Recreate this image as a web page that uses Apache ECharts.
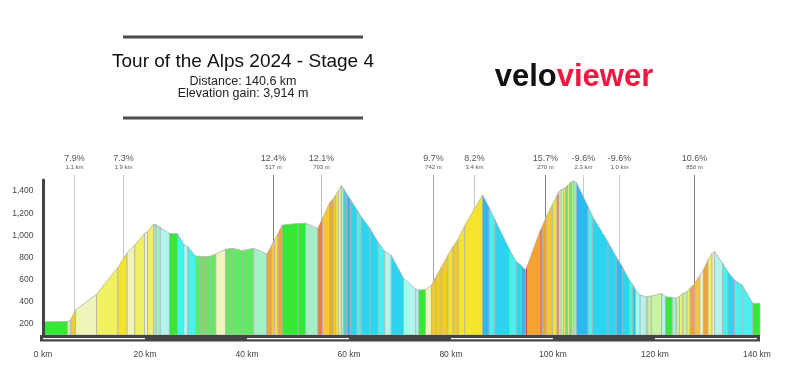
<!DOCTYPE html>
<html>
<head>
<meta charset="utf-8">
<title>Tour of the Alps 2024 - Stage 4</title>
<script src="https://cdn.jsdelivr.net/npm/echarts@6.0.0/dist/echarts.min.js"></script>
<style>
  html, body { margin: 0; padding: 0; background: #fff; }
  #chart { width: 791px; height: 377px; }
</style>
</head>
<body>
<div id="chart"></div>
<script>
const stageTitle = 'Tour of the Alps 2024 - Stage 4'
const totalKm = 140.6
const elevationGain = 3914

// profile points (km, elevation m)
const profileKm = [
  0, 4.8, 5.4, 6.4, 10.5, 14.7, 16.5, 18.0, 19.9, 20.5,
  21.7, 22.2, 23.0, 24.8, 26.4, 27.6, 28.4, 29.9, 30.8, 31.7,
  32.8, 33.9, 35.8, 37.1, 39.1, 41.3, 43.9, 44.8, 45.4, 46.1,
  46.9, 50.0, 51.5, 53.9, 54.8, 56.2, 56.9, 57.4, 58.0, 58.5,
  59.0, 59.6, 60.3, 61.6, 62.4, 64.1, 65.7, 67.0, 68.3, 70.7,
  73.1, 73.7, 75.0, 76.2, 77.0, 78.1, 79.4, 80.4, 81.4, 82.7,
  86.2, 87.5, 88.6, 91.5, 92.8, 93.8, 94.6, 95.0, 97.4, 98.0,
  98.7, 99.9, 100.8, 101.2, 101.6, 102.1, 102.5, 102.9, 103.3, 103.7,
  104.1, 104.6, 106.9, 107.8, 110.8, 112.4, 113.6, 115.0, 115.7, 116.2,
  117.1, 118.3, 118.6, 119.3, 121.3, 122.1, 123.4, 124.2, 124.8, 125.5,
  126.3, 126.9, 127.8, 128.8, 129.5, 130.4, 131.2, 131.7, 133.3, 134.3,
  135.6, 137.1, 139.2, 140.6
]
const profileElev = [
  220, 222, 238, 326, 468, 711, 843, 913, 1018, 1033,
  1103, 1095, 1070, 1018, 1014, 919, 899, 814, 810, 807,
  812, 832, 874, 884, 862, 883, 832, 907, 962, 1018,
  1093, 1108, 1110, 1064, 1154, 1294, 1330, 1365, 1410, 1452,
  1419, 1372, 1323, 1228, 1170, 1064, 940, 857, 820, 612,
  516, 506, 510, 552, 621, 711, 820, 898, 965, 1088,
  1365, 1250, 1145, 870, 765, 728, 687, 729, 1033, 1094,
  1169, 1278, 1361, 1397, 1412, 1422, 1434, 1455, 1470, 1488,
  1492, 1478, 1259, 1169, 939, 806, 717, 597, 552, 506,
  461, 446, 448, 452, 476, 445, 440, 432, 452, 476,
  491, 522, 567, 640, 690, 777, 838, 853, 748, 672,
  597, 552, 386, 386
]
// gradient (%) of each segment between consecutive points
const segmentGrade = [
  0, 2, 9, 3, 5, 7, 3, 5, 3, 5,
  -1, -1.5, -3, 0, -5, -3, -5, 1, 1, 1,
  1, 3, 1, 1, 1, -2, 11, 9, 7, 11,
  0, 0, -2, 13, 8.5, 11, 9, 7, 3, -1.5,
  -7, -9, -7, -5, -7, -7, -5, -3, -7, -3,
  -3, 0, 3, 8, 9, 9, 7, 9, 7, 7,
  -9, -5, -7, -5, -7, -9, 16, 11, 13, 11,
  9, 7, 13, 3, 2, 5, 1, 5, 1, 2,
  -1.5, -9, -5, -7, -7, -9, -7, -5, -9, -3,
  -3, 3, 2, 2, -3, 0, -2, 2, 5, 2,
  5, 11, 8, 3, 11, 5, 3, -3, -5, -7,
  -5, -5, 0
]

// steepest-section markers
const climbKm = [6.0, 15.6, 45.1, 54.5, 76.5, 84.5, 98.4, 105.8, 113.0, 127.6]
const climbGrade = ['7.9%', '7.3%', '12.4%', '12.1%', '9.7%', '8.2%', '15.7%', '-9.6%', '-9.6%', '10.6%']
const climbLength = ['1.1 km', '1.9 km', '517 m', '793 m', '742 m', '3.4 km', '270 m', '2.3 km', '1.0 km', '850 m']

const elevTicks = [200, 400, 600, 800, 1000, 1200, 1400]
const kmTicks = [0, 20, 40, 60, 80, 100, 120, 140]
const scaleSegments = [[0, 20], [40, 60], [80, 100], [120, 140]]

const yMin = 100
const yMax = 1500
const font = "'Liberation Sans', Arial, sans-serif"
const climbLineColors = ['#c8c8c8', '#c8c8c8', '#808080', '#c0c0c0', '#a4a4a4',
  '#c4c4c4', '#808080', '#cccccc', '#cccccc', '#808080']

const gradeColor = (g) => {
  if (g >= 15) return '#e6363a'
  if (g >= 12) return '#f27a34'
  if (g >= 10) return '#f4a232'
  if (g >= 8) return '#f4c830'
  if (g >= 6) return '#f4e42c'
  if (g >= 4) return '#f0f062'
  if (g >= 2.5) return '#f0f4ba'
  if (g >= 1.5) return '#c8f4a2'
  if (g >= 0.5) return '#62e862'
  if (g > -0.5) return '#34e834'
  if (g > -2.5) return '#a4f0c6'
  if (g > -4) return '#b0f4ec'
  if (g > -6) return '#4af0f0'
  if (g > -8) return '#2cd4f0'
  return '#2cb8f0'
}

const segData = segmentGrade.map((g, i) => [
  profileKm[i], profileElev[i], profileKm[i + 1], profileElev[i + 1], g
])

const chart = echarts.init(document.getElementById('chart'))

const option = {
  animation: false,
  backgroundColor: '#ffffff',
  grid: { left: 43, right: 31, top: 180, bottom: 42 },
  xAxis: {
    type: 'value',
    min: 0,
    max: totalKm,
    axisLine: { show: false },
    axisTick: { show: false },
    splitLine: { show: false },
    axisLabel: {
      customValues: kmTicks,
      formatter: (v) => v + ' km',
      color: '#444',
      fontSize: 8.5,
      fontFamily: font,
      margin: 15
    }
  },
  yAxis: {
    type: 'value',
    min: yMin,
    max: yMax,
    offset: 1.5,
    z: 5,
    axisLine: { show: true, lineStyle: { color: '#444', width: 3 } },
    axisTick: { show: false },
    splitLine: { show: false },
    axisLabel: {
      customValues: elevTicks,
      formatter: (v) => v.toLocaleString('en-US'),
      color: '#444',
      fontSize: 8.5,
      fontFamily: font,
      margin: 8
    }
  },
  graphic: [
    { type: 'line', shape: { x1: 123, y1: 37, x2: 363, y2: 37 }, style: { stroke: '#4d4d4d', lineWidth: 3 } },
    { type: 'text', x: 243, y: 62, style: { text: stageTitle, font: '19px ' + font, fill: '#111', align: 'center', verticalAlign: 'middle' } },
    { type: 'text', x: 243, y: 82, style: { text: 'Distance: ' + totalKm + ' km', font: '12.5px ' + font, fill: '#222', align: 'center', verticalAlign: 'middle' } },
    { type: 'text', x: 243, y: 94, style: { text: 'Elevation gain: ' + elevationGain.toLocaleString('en-US') + ' m', font: '12.5px ' + font, fill: '#222', align: 'center', verticalAlign: 'middle' } },
    { type: 'line', shape: { x1: 123, y1: 118, x2: 363, y2: 118 }, style: { stroke: '#4d4d4d', lineWidth: 3 } },
    {
      type: 'text', x: 574, y: 77,
      style: {
        text: '{a|velo}{b|viewer}',
        align: 'center',
        verticalAlign: 'middle',
        rich: {
          a: { fontSize: 31, fontWeight: 900, fontFamily: font, fill: '#111', color: '#111' },
          b: { fontSize: 31, fontWeight: 900, fontFamily: font, fill: '#ee1840', color: '#ee1840' }
        }
      }
    }
  ],
  series: [
    {
      name: 'climbs',
      type: 'custom',
      z: 1,
      data: climbKm.map((km, i) => [km, i]),
      encode: { x: 0 },
      renderItem: (params, api) => {
        const i = api.value(1)
        const top = api.coord([api.value(0), yMax])
        const bottom = api.coord([api.value(0), yMin])
        const x = Math.round(top[0]) + 0.5
        return {
          type: 'group',
          children: [
            { type: 'line', shape: { x1: x, y1: top[1] - 5, x2: x, y2: bottom[1] }, style: { stroke: climbLineColors[i], lineWidth: 1 } },
            { type: 'text', style: { x: x, y: top[1] - 21.5, text: climbGrade[i], font: '9px ' + font, fill: '#555', align: 'center', verticalAlign: 'middle' } },
            { type: 'text', style: { x: x, y: top[1] - 12.5, text: climbLength[i], font: '6px ' + font, fill: '#555', align: 'center', verticalAlign: 'middle' } }
          ]
        }
      }
    },
    {
      name: 'profile',
      type: 'custom',
      z: 2,
      data: segData,
      encode: { x: [0, 2], y: [1, 3] },
      renderItem: (params, api) => {
        const p0 = api.coord([api.value(0), api.value(1)])
        const p1 = api.coord([api.value(2), api.value(3)])
        const b0 = api.coord([api.value(0), yMin])
        const b1 = api.coord([api.value(2), yMin])
        return {
          type: 'polygon',
          shape: { points: [b0, p0, p1, b1] },
          style: { fill: gradeColor(api.value(4)), stroke: '#b2b2b2', lineWidth: 0.8 }
        }
      }
    },
    {
      name: 'axisBand',
      type: 'custom',
      z: 3,
      data: [[0, totalKm]],
      encode: { x: [0, 1] },
      renderItem: (params, api) => {
        const a = api.coord([api.value(0), yMin])
        const b = api.coord([api.value(1), yMin])
        return {
          type: 'rect',
          shape: { x: a[0] - 3, y: a[1], width: b[0] - a[0] + 3, height: 6.5 },
          style: { fill: '#444' }
        }
      }
    },
    {
      name: 'scaleBar',
      type: 'custom',
      z: 4,
      data: scaleSegments,
      encode: { x: [0, 1] },
      renderItem: (params, api) => {
        const a = api.coord([api.value(0), yMin])
        const b = api.coord([api.value(1), yMin])
        return {
          type: 'line',
          shape: { x1: a[0], y1: a[1] + 3.6, x2: b[0], y2: a[1] + 3.6 },
          style: { stroke: '#ffffff', lineWidth: 1.4 }
        }
      }
    }
  ]
}

chart.setOption(option)
window.addEventListener('resize', () => chart.resize())
</script>
</body>
</html>
